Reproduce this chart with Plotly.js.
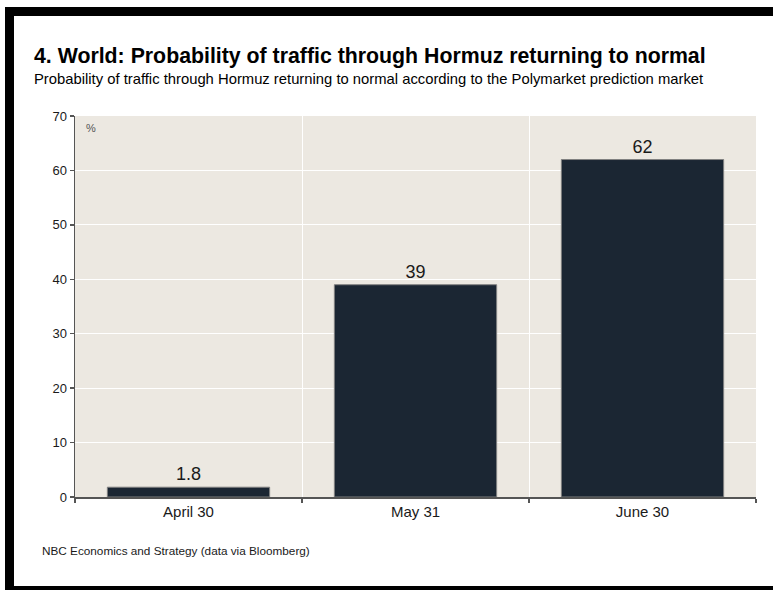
<!DOCTYPE html>
<html>
<head>
<meta charset="utf-8">
<script src="https://cdn.plot.ly/plotly-3.0.1.min.js"></script>
<style>
  html, body { margin: 0; padding: 0; background: #ffffff; }
  #wrap { position: relative; width: 773px; height: 590px; overflow: hidden; }
  #chart { position: absolute; left: 0; top: 0; width: 773px; height: 590px; }
  .frame { position: absolute; background: #000000; z-index: 10; }
</style>
</head>
<body>
<div id="wrap">
  <div id="chart"></div>
  <div class="frame" style="left:5px; top:7px; width:768px; height:9px;"></div>
  <div class="frame" style="left:5px; top:7px; width:9px; height:583px;"></div>
  <div class="frame" style="left:5px; top:586px; width:768px; height:4px;"></div>
</div>
<script>
const categories = ["April 30", "May 31", "June 30"];
const probability = [1.8, 39, 62];
const valueLabels = ["1.8", "39", "62"];
const yTicks = [0, 10, 20, 30, 40, 50, 60, 70];

const titleText = "4. World: Probability of traffic through Hormuz returning to normal";
const subtitleText = "Probability of traffic through Hormuz returning to normal according to the Polymarket prediction market";
const sourceText = "NBC Economics and Strategy (data via Bloomberg)";
const unitText = "%";

const FONT = "Liberation Sans, Arial, sans-serif";

const trace = {
  type: "bar",
  x: categories,
  y: probability,
  text: valueLabels,
  textposition: "outside",
  cliponaxis: false,
  textfont: { family: FONT, size: 18, color: "#1a1a1a" },
  marker: { color: "#1b2633", line: { color: "#808080", width: 1 } },
  width: 0.715,
  hoverinfo: "skip"
};

const L = 75, R = 17, T = 116, B = 93;
const W = 773, H = 590;
const pw = W - L - R, ph = H - T - B;
function px2x(px) { return (px - L) / pw; }
function py2y(py) { return (H - B - py) / ph; }

const layout = {
  width: W,
  height: H,
  margin: { l: L, r: R, t: T, b: B, pad: 0 },
  paper_bgcolor: "#ffffff",
  plot_bgcolor: "#ece8e1",
  showlegend: false,
  font: { family: FONT, color: "#1a1a1a" },
  bargap: 0.285,
  xaxis: {
    type: "category",
    tickson: "boundaries",
    ticks: "outside",
    ticklen: 4,
    tickwidth: 1.5,
    tickcolor: "#555555",
    showline: true,
    linecolor: "#555555",
    linewidth: 1.5,
    showgrid: true,
    gridcolor: "#ffffff",
    gridwidth: 1,
    tickfont: { family: FONT, size: 15, color: "#1a1a1a" },
    fixedrange: true
  },
  yaxis: {
    range: [0, 70],
    tickvals: yTicks,
    ticktext: yTicks.map(String),
    ticks: "outside",
    ticklen: 4,
    tickwidth: 1.5,
    tickcolor: "#555555",
    showline: true,
    linecolor: "#555555",
    linewidth: 1.5,
    showgrid: true,
    gridcolor: "#ffffff",
    gridwidth: 1,
    zeroline: false,
    tickfont: { family: FONT, size: 13, color: "#1a1a1a" },
    fixedrange: true
  },
  annotations: [
    {
      xref: "paper", yref: "paper",
      x: px2x(32), y: py2y(70),
      xanchor: "left", yanchor: "bottom",
      showarrow: false,
      text: "<b>" + titleText + "</b>",
      font: { family: FONT, size: 21.3, color: "#000000" }
    },
    {
      xref: "paper", yref: "paper",
      x: px2x(32), y: py2y(89),
      xanchor: "left", yanchor: "bottom",
      showarrow: false,
      text: subtitleText,
      font: { family: FONT, size: 14.8, color: "#000000" }
    },
    {
      xref: "paper", yref: "paper",
      x: px2x(84), y: py2y(128),
      xanchor: "left", yanchor: "middle",
      showarrow: false,
      text: unitText,
      font: { family: FONT, size: 11, color: "#555555" }
    },
    {
      xref: "paper", yref: "paper",
      x: px2x(40), y: py2y(550),
      xanchor: "left", yanchor: "middle",
      showarrow: false,
      text: sourceText,
      font: { family: FONT, size: 11.75, color: "#1a1a1a" }
    }
  ]
};

Plotly.newPlot("chart", [trace], layout, { displayModeBar: false, staticPlot: true });
</script>
</body>
</html>
